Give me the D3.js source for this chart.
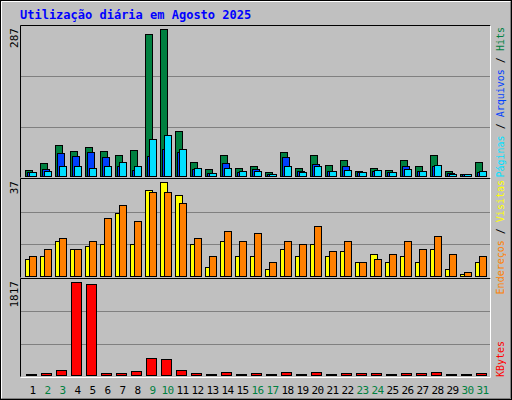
<!DOCTYPE html>
<html><head><meta charset="utf-8">
<script src="https://cdn.jsdelivr.net/npm/d3@7"></script>
<style>body{margin:0;background:#fff}</style></head>
<body><svg id="c" width="512" height="400"></svg>
<script>
const days = d3.range(1,32);
const weekend = [2,3,9,10,16,17,23,24,30,31];
const hits  = [13,28,63,51,59,51,42,53,277,287,90,30,16,42,18,22,9,49,18,42,24,32,12,18,14,32,22,42,12,5,30];
const files = [9,16,47,40,49,38,22,14,40,55,49,16,7,28,9,16,6,38,11,26,12,22,9,12,9,21,12,22,7,5,9];
const pages = [9,12,22,21,18,22,30,21,73,81,55,18,7,18,11,11,5,22,9,21,12,14,9,14,9,16,11,24,5,5,11];
const visits= [7,8,14,11,12,13,25,13,34,37,32,13,4,14,8,8,3,11,8,13,8,10,6,9,6,8,6,11,3,1,6];
const hosts = [8,11,15,11,14,23,28,22,33,33,29,15,8,18,14,17,6,14,13,20,10,14,6,7,9,14,11,16,9,2,8];
const kbytes= [40,60,113,1817,1777,60,60,93,351,331,113,60,40,80,40,60,40,80,40,80,40,60,60,60,40,60,60,80,40,40,60];
const maxTop=287, maxMid=37, maxBot=1817;

const svg=d3.select("#c");
const font="'DejaVu Sans Mono', monospace";
svg.append("rect").attr("width",512).attr("height",400).attr("fill","#C0C0C0");
svg.append("rect").attr("x",0.5).attr("y",0.5).attr("width",511).attr("height",399).attr("fill","none").attr("stroke","#000");
svg.append("path").attr("d","M1.5,398.5V1.5H510.5").attr("fill","none").attr("stroke","#fff");
svg.append("path").attr("d","M1.5,398.5H510.5V1.5").attr("fill","none").attr("stroke","#808080");

svg.append("text").attr("x",20).attr("y",19).attr("font-family",font).attr("font-weight","bold")
  .attr("font-size",12).attr("fill","#0000FF").text("Utilização diária em Agosto 2025");

const x=d3.scaleBand().domain(days).range([24,489]).paddingInner(0);
const L=21,R=490;
const panels=[
 {top:26,bot:177,max:maxTop},
 {top:179,bot:277,max:maxMid},
 {top:279,bot:376,max:maxBot}
];
panels.forEach(p=>{
  p.y=d3.scaleLinear().domain([0,p.max]).range([p.bot,p.top+3]);
  const g=svg.append("g");
  g.append("path").attr("d",`M${L-0.5},${p.bot+0.5}V${p.top-0.5}H${R+0.5}`).attr("fill","none").attr("stroke","#000");
  g.append("path").attr("d",`M${L-0.5},${p.bot+1.5}H${R+0.5}V${p.top-0.5}`).attr("fill","none").attr("stroke","#fff");
  const h=p.bot-p.top;
  [1,2].forEach(k=>g.append("line").attr("x1",L).attr("x2",R).attr("y1",Math.round(p.bot-h*k/3)+0.5).attr("y2",Math.round(p.bot-h*k/3)+0.5).attr("stroke","#808080"));
});

function bars(data,panel,off,w,color){
  svg.append("g").selectAll("rect").data(data).join("rect")
    .attr("x",(d,i)=>x(days[i])+off+0.5).attr("width",w)
    .attr("y",d=>Math.round(panel.y(d))+0.5).attr("height",d=>Math.max(1,panel.bot-Math.round(panel.y(d))-1))
    .attr("fill",color).attr("stroke","#000");
}
bars(hits,panels[0],1,7,"#008040");
bars(files,panels[0],3,7,"#0040FF");
bars(pages,panels[0],5,7,"#00E0FF");
bars(visits,panels[1],1,7,"#FFFF00");
bars(hosts,panels[1],5,7,"#FF8000");
bars(kbytes,panels[2],2,10,"#FF0000");

svg.append("g").selectAll("text").data(days).join("text")
  .attr("x",d=>x(d)+x.bandwidth()/2+1).attr("y",394).attr("text-anchor","middle")
  .attr("font-family",font).attr("font-size",11).attr("letter-spacing",-0.5)
  .attr("fill",d=>weekend.includes(d)?"#008040":"#000").text(d=>d);

[[maxTop,26],[maxMid,179],[maxBot,279]].forEach(([v,t])=>{
  svg.append("text").attr("transform",`translate(18,${t+2}) rotate(-90)`).attr("text-anchor","end")
    .attr("font-family",font).attr("font-size",11).attr("fill","#000").text(v);
});
function rlabel(parts,yPos,anchor){
  const t=svg.append("text").attr("transform",`translate(504,${yPos}) rotate(-90)`).attr("text-anchor",anchor)
   .attr("font-family",font).attr("font-size",10);
  parts.forEach(([s,c])=>t.append("tspan").attr("fill",c).text(s));
}
rlabel([["Páginas","#00E0FF"],[" / ","#000"],["Arquivos","#0040FF"],[" / ","#000"],["Hits","#008040"]],27,"end");
rlabel([["Endereços","#FF8000"],[" / ","#000"],["Visitas","#FFFF00"]],180,"end");
rlabel([["KBytes","#FF0000"]],377,"start");
</script></body></html>
